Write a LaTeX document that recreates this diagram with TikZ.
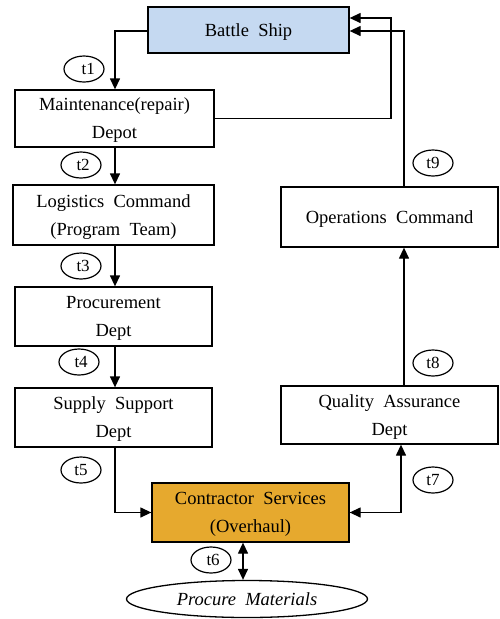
\documentclass[tikz,border=0pt]{standalone}
\usepackage{fontspec}
\setmainfont{Liberation Serif}
\usetikzlibrary{arrows.meta,shapes.geometric}
\definecolor{shipblue}{HTML}{C5D9F1}
\definecolor{contorange}{HTML}{E6A92E}
\tikzset{
  box/.style={draw, line width=1.3pt, rectangle, inner sep=0pt, align=center,
    font=\fontsize{18.5}{28}\selectfont, text depth=0pt},
  tag/.style={draw, ellipse, line width=1.2pt, inner sep=0pt,
    minimum width=40pt, minimum height=26pt, font=\fontsize{17}{17}\selectfont},
  arr/.style={line width=1.3pt, -{Triangle[length=11pt,width=10pt]}},
  arrtwo/.style={line width=1.3pt, {Triangle[length=11pt,width=10pt]}-{Triangle[length=11pt,width=10pt]}}
}
\begin{document}
\begin{tikzpicture}[x=1pt,y=-1pt]
\useasboundingbox (0,0) rectangle (500,619);

% process boxes
\node[box, fill=shipblue, minimum width=201pt, minimum height=46pt] (ship) at (248.5,30) {Battle\ \ Ship};
\node[box, minimum width=199pt, minimum height=57pt] (maint) at (114.5,118.5) {Maintenance(repair)\\Depot};
\node[box, minimum width=201pt, minimum height=60pt] (logi) at (113.5,215) {Logistics\ \ Command\\(Program\ \ Team)};
\node[box, minimum width=197pt, minimum height=59pt] (proc) at (113.5,316.5) {Procurement\\Dept};
\node[box, minimum width=197pt, minimum height=59pt] (supp) at (113.5,417.5) {Supply\ \ Support\\Dept};
\node[box, minimum width=217pt, minimum height=60pt] (ops) at (389.5,217) {Operations\ \ Command};
\node[box, minimum width=217pt, minimum height=58pt] (qa) at (389.5,415) {Quality\ \ Assurance\\Dept};
\node[box, fill=contorange, minimum width=197pt, minimum height=59pt] (cont) at (250.5,512.5) {Contractor\ \ Services\\(Overhaul)};
\node[draw, ellipse, line width=1.3pt, minimum width=241pt, minimum height=37pt, inner sep=0pt,
  font=\fontsize{18.5}{18.5}\selectfont\itshape] (mat) at (247,599) {Procure\ \ Materials};

% step tags
\node[tag] (t1) at (84,69) {\ \ t1};
\node[tag] (t2) at (81,165) {\ t2};
\node[tag] (t3) at (81,266) {\ t3};
\node[tag] (t4) at (79,362) {\ t4};
\node[tag] (t5) at (81,470) {t5};
\node[tag] (t6) at (211,560) {\ t6};
\node[tag] (t7) at (433,480) {t7};
\node[tag] (t8) at (433,363) {t8};
\node[tag] (t9) at (433,163) {t9};

% routing columns
\coordinate (xl) at (115,0);
\coordinate (xa) at (391,0);
\coordinate (xb) at (404,0);
\coordinate (xc) at (401,0);
\coordinate (xd) at (243,0);

% connectors
\draw[arr] ([yshift=-1pt]ship.west) -| (maint.north -| xl);
\draw[arr] (maint.east) -- (maint.east -| xa) |- ([yshift=12pt]ship.east);
\draw[arr] (ops.north -| xb) |- ([yshift=-1pt]ship.east);
\draw[arr] (maint.south -| xl) -- (logi.north -| xl);
\draw[arr] (logi.south -| xl) -- (proc.north -| xl);
\draw[arr] (proc.south -| xl) -- (supp.north -| xl);
\draw[arr] (supp.south -| xl) |- (cont.west);
\draw[arrtwo] (cont.east) -| (qa.south -| xc);
\draw[arr] (qa.north -| xb) -- (ops.south -| xb);
\draw[arrtwo] (cont.south -| xd) -- (mat.north -| xd);
\end{tikzpicture}
\end{document}
